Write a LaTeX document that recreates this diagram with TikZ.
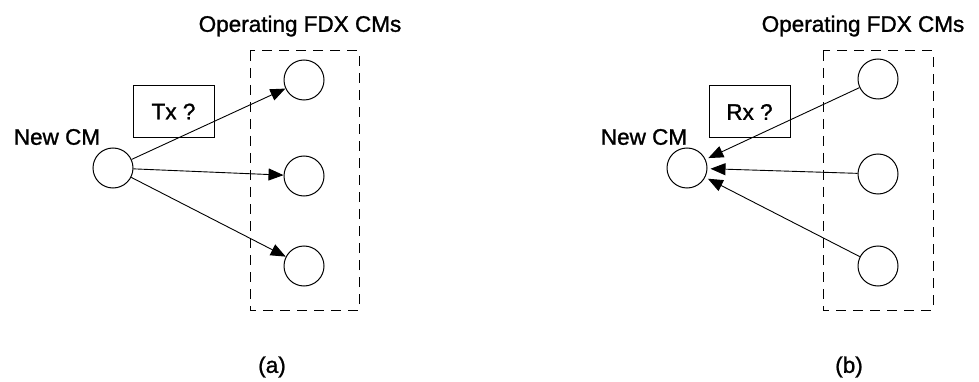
\documentclass[tikz,border=0pt]{standalone}
\usepackage{fontspec}
\setmainfont{Liberation Sans}[BoldFont=Liberation Sans,BoldFeatures={FakeBold=1.2}]
\usetikzlibrary{arrows.meta}
\begin{document}
\begin{tikzpicture}[x=1pt,y=-1pt,
  lbl/.style={inner sep=0pt,font=\fontsize{22.5}{26}\selectfont\bfseries},
  cmnode/.style={draw,circle,minimum size=40pt,inner sep=0pt,line width=1pt},
  qbox/.style={draw,line width=1pt,minimum width=81pt,minimum height=52pt,inner sep=0pt,font=\fontsize{22.5}{26}\selectfont\bfseries},
  grp/.style={draw,line width=1pt,dash pattern=on 10pt off 7pt},
  arr/.style={line width=0.9pt,-{Triangle[length=15pt,width=12pt]}}]
\useasboundingbox (0,0) rectangle (979,382);
% panel (a)
\node[lbl] (ta) at (300,26) {Operating FDX CMs};
\draw[grp] (250,51) rectangle (359,310);
\node[cmnode] (na) at (113,168) {};
\node[lbl] (la) at (57,137) {New CM};
\node[qbox,fill=white] (qa) at (173.5,111.5) {Tx ?};
\node[cmnode] (a1) at (304,80) {};
\node[cmnode] (a2) at (304,176) {};
\node[cmnode] (a3) at (304,266) {};
\draw[arr] (na) -- (a1);
\draw[arr] (na) -- (a2);
\draw[arr] (na) -- (a3);
\node[lbl] (capa) at (272,367) {(a)};
% panel (b)
\node[lbl] (tb) at (863,26) {Operating FDX CMs};
\draw[grp] (823,51) rectangle (933,310);
\node[cmnode] (nb) at (687,168) {};
\node[lbl] (lb) at (644,137) {New CM};
\node[qbox,fill=white] (qb) at (749.5,112) {Rx ?};
\node[cmnode] (b1) at (878,79) {};
\node[cmnode] (b2) at (878,174) {};
\node[cmnode] (b3) at (878,266) {};
\draw[arr,shorten >=3pt] (b1) -- (nb);
\draw[arr,shorten >=3pt] (b2) -- (nb);
\draw[arr,shorten >=3pt] (b3) -- (nb);
\node[lbl] (capb) at (849,367) {(b)};
\end{tikzpicture}
\end{document}
